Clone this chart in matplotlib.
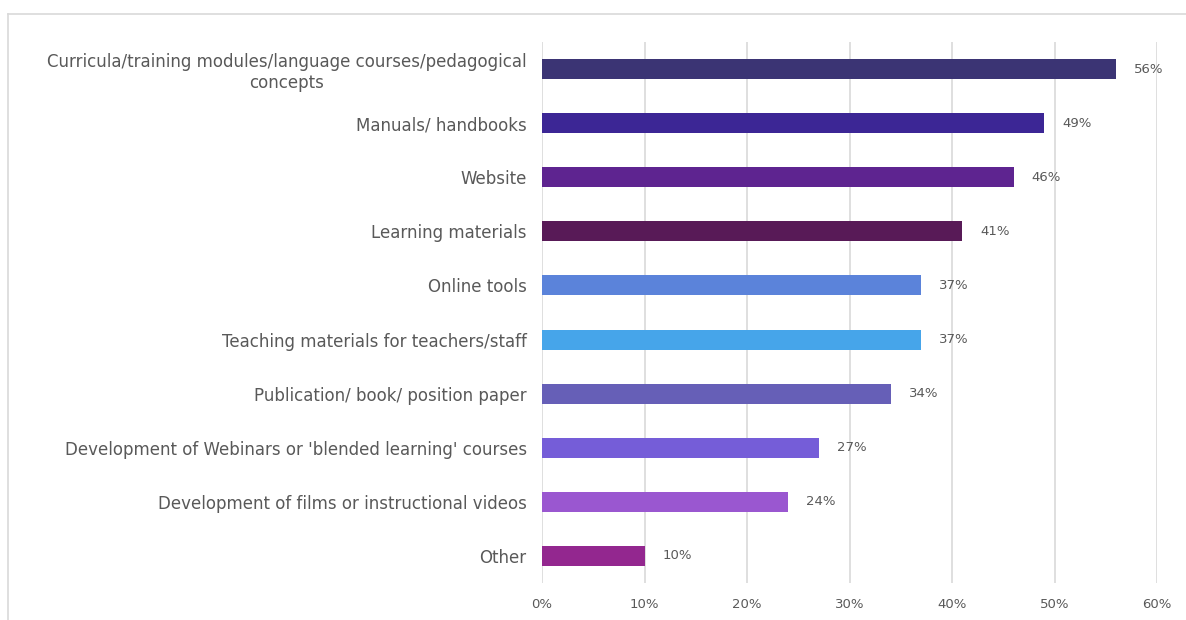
import matplotlib
matplotlib.use("Agg")
import matplotlib.pyplot as plt
from matplotlib.lines import Line2D
from matplotlib.ticker import PercentFormatter

categories = [
    "Curricula/training modules/language courses/pedagogical\nconcepts",
    "Manuals/ handbooks",
    "Website",
    "Learning materials",
    "Online tools",
    "Teaching materials for teachers/staff",
    "Publication/ book/ position paper",
    "Development of Webinars or 'blended learning' courses",
    "Development of films or instructional videos",
    "Other",
]
values = [56, 49, 46, 41, 37, 37, 34, 27, 24, 10]
colors = [
    "#3b3474", "#3c2695", "#5e2490", "#581a57", "#5b83da",
    "#46a5ea", "#665fb7", "#755dd8", "#9a57d0", "#93278f",
]
x_ticks = [0, 10, 20, 30, 40, 50, 60]

text_color = "#595959"
grid_color = "#d9d9d9"

fig = plt.figure(figsize=(11.86, 6.2), dpi=100)
ax = fig.add_axes([542 / 1186, 1 - 583 / 620, (1157 - 542) / 1186, (583 - 42) / 620])

positions = list(range(len(categories)))
ax.barh(positions, values, height=0.37, color=colors, zorder=3)

for p, v in zip(positions, values):
    ax.annotate(f"{v}%", xy=(v, p), xytext=(13, 0), textcoords="offset points",
                ha="left", va="center", fontsize=9.5, color=text_color)

ax.set_xlim(0, 60)
ax.set_ylim(len(categories) - 0.5, -0.5)
ax.set_xticks(x_ticks)
ax.xaxis.set_major_formatter(PercentFormatter(decimals=0))
ax.set_yticks(positions)
ax.set_yticklabels(categories)
for lbl in ax.get_yticklabels():
    lbl.set_multialignment("center")

ax.tick_params(axis="both", length=0, colors=text_color)
ax.tick_params(axis="y", pad=11, labelsize=12)
ax.tick_params(axis="x", pad=11, labelsize=9.5)
for s in ax.spines.values():
    s.set_visible(False)
ax.grid(axis="x", color=grid_color, linewidth=1.2, zorder=0)
ax.grid(axis="y", visible=False)

# light frame around the chart area
fig.add_artist(Line2D([8 / 1186, 1.0], [1 - 14 / 620, 1 - 14 / 620],
                      transform=fig.transFigure, color=grid_color, linewidth=1.2))
fig.add_artist(Line2D([8 / 1186, 8 / 1186], [0.0, 1 - 14 / 620],
                      transform=fig.transFigure, color=grid_color, linewidth=1.2))

fig.savefig("out.png", dpi=100, facecolor="white")
